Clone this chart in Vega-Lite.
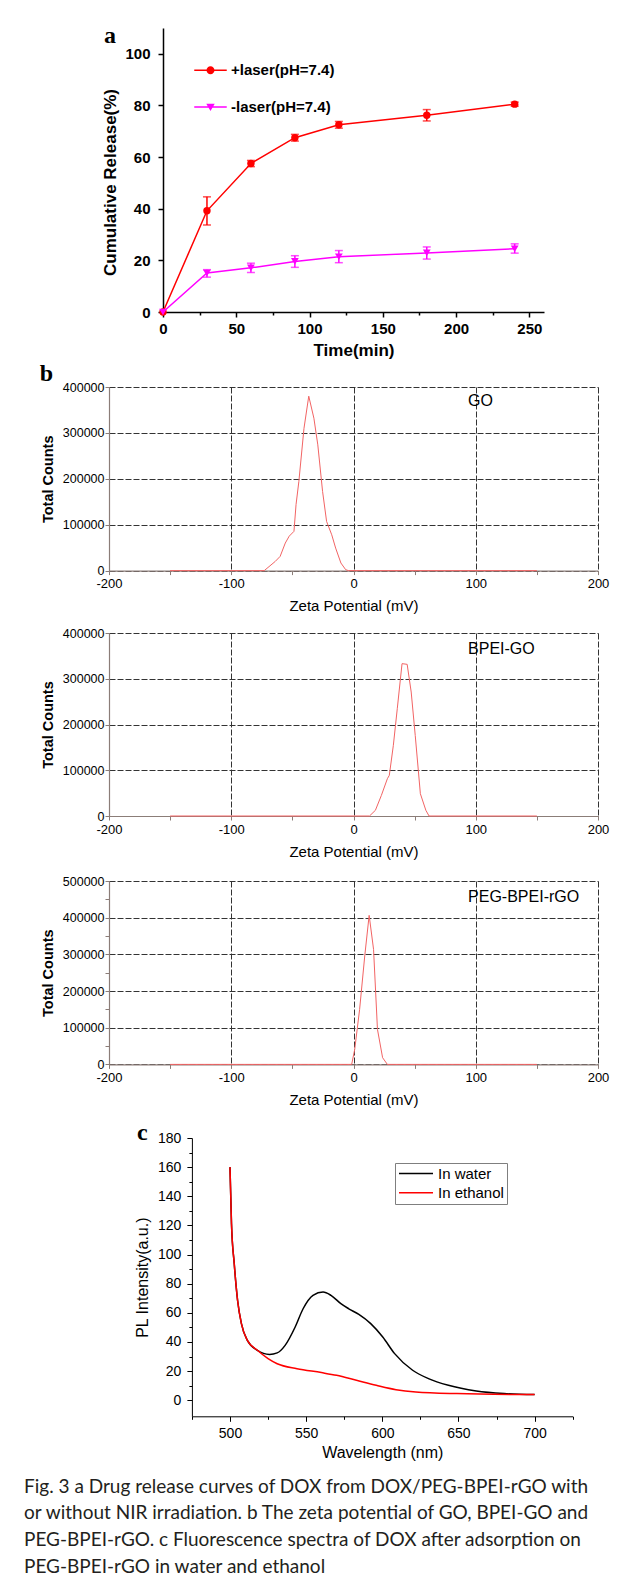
{
  "$schema": "https://vega.github.io/schema/vega-lite/v6.json",
  "padding": {"left": 24, "top": 23, "right": 5, "bottom": 12},
  "background": "white",
  "config": {
    "font": "Liberation Sans",
    "view": {"stroke": null},
    "axis": {"labelColor": "black", "titleColor": "black", "domainColor": "black", "tickColor": "black", "labelOverlap": false, "labelFlush": false}
  },
  "resolve": {"scale": {"color": "independent", "shape": "independent"}, "legend": {"color": "independent", "shape": "independent"}},
  "datasets": {
    "rel": [
      {"t": 0, "v": 0, "s": "+laser(pH=7.4)"},
      {"t": 30, "v": 39.2, "lo": 33.7, "hi": 44.6, "s": "+laser(pH=7.4)"},
      {"t": 60, "v": 57.5, "lo": 56.3, "hi": 58.7, "s": "+laser(pH=7.4)"},
      {"t": 90, "v": 67.5, "lo": 66.2, "hi": 68.8, "s": "+laser(pH=7.4)"},
      {"t": 120, "v": 72.5, "lo": 71.2, "hi": 73.8, "s": "+laser(pH=7.4)"},
      {"t": 180, "v": 76.2, "lo": 74.0, "hi": 78.4, "s": "+laser(pH=7.4)"},
      {"t": 240, "v": 80.5, "lo": 79.7, "hi": 81.3, "s": "+laser(pH=7.4)"},
      {"t": 0, "v": 0, "s": "-laser(pH=7.4)"},
      {"t": 30, "v": 15.1, "lo": 13.5, "hi": 16.4, "s": "-laser(pH=7.4)"},
      {"t": 60, "v": 17.1, "lo": 15.3, "hi": 18.9, "s": "-laser(pH=7.4)"},
      {"t": 90, "v": 19.6, "lo": 17.3, "hi": 21.8, "s": "-laser(pH=7.4)"},
      {"t": 120, "v": 21.4, "lo": 19.1, "hi": 23.8, "s": "-laser(pH=7.4)"},
      {"t": 180, "v": 22.9, "lo": 20.5, "hi": 25.2, "s": "-laser(pH=7.4)"},
      {"t": 240, "v": 24.5, "lo": 22.8, "hi": 26.4, "s": "-laser(pH=7.4)"}
    ],
    "go": [
      {"z": -150, "c": 0}, {"z": -73, "c": 0}, {"z": -64, "c": 20000}, {"z": -60, "c": 31000},
      {"z": -55.8, "c": 60000}, {"z": -52.6, "c": 75000}, {"z": -48.7, "c": 85500}, {"z": -47, "c": 143700},
      {"z": -44.7, "c": 194000}, {"z": -40.5, "c": 310000}, {"z": -36.6, "c": 380000}, {"z": -32.4, "c": 332000},
      {"z": -29.2, "c": 274000}, {"z": -25.3, "c": 172600}, {"z": -22, "c": 107000}, {"z": -17.8, "c": 78000},
      {"z": -14.6, "c": 49000}, {"z": -10.3, "c": 16500}, {"z": -6.4, "c": 2000}, {"z": -4.2, "c": 0},
      {"z": 150, "c": 0}
    ],
    "bpei": [
      {"z": -150, "c": 0}, {"z": 13.1, "c": 0}, {"z": 17.9, "c": 12400}, {"z": 22.8, "c": 45000},
      {"z": 27.7, "c": 81500}, {"z": 29.3, "c": 89000}, {"z": 32.6, "c": 154500}, {"z": 35.8, "c": 234500},
      {"z": 39.7, "c": 333000}, {"z": 43.9, "c": 331500}, {"z": 47.2, "c": 271000}, {"z": 50.5, "c": 176000},
      {"z": 54.7, "c": 48700}, {"z": 59.2, "c": 12400}, {"z": 61.8, "c": 0}, {"z": 150, "c": 0}
    ],
    "peg": [
      {"z": -150, "c": 0}, {"z": -1.5, "c": 0}, {"z": 1, "c": 41000}, {"z": 5, "c": 150000},
      {"z": 9.2, "c": 295600}, {"z": 12.8, "c": 406400}, {"z": 16.4, "c": 313700}, {"z": 19.6, "c": 95500},
      {"z": 23.8, "c": 18300}, {"z": 27.7, "c": 0}, {"z": 150, "c": 0}
    ],
    "pl": [
      {"w": 500, "i": 160, "s": "In water"}, {"w": 501, "i": 121, "s": "In water"}, {"w": 502.8, "i": 93.7, "s": "In water"},
      {"w": 505, "i": 68.5, "s": "In water"}, {"w": 507.5, "i": 52.6, "s": "In water"}, {"w": 511.4, "i": 41.1, "s": "In water"},
      {"w": 518, "i": 34.3, "s": "In water"}, {"w": 522, "i": 32.2, "s": "In water"}, {"w": 526, "i": 31.5, "s": "In water"},
      {"w": 531, "i": 32.5, "s": "In water"}, {"w": 536.2, "i": 37.7, "s": "In water"}, {"w": 542.8, "i": 50.3, "s": "In water"},
      {"w": 548, "i": 62.8, "s": "In water"}, {"w": 554.5, "i": 72, "s": "In water"}, {"w": 561.1, "i": 74.3, "s": "In water"},
      {"w": 566.3, "i": 72, "s": "In water"}, {"w": 572.8, "i": 66.3, "s": "In water"}, {"w": 578, "i": 62.8, "s": "In water"},
      {"w": 584.6, "i": 58.9, "s": "In water"}, {"w": 592.4, "i": 52.6, "s": "In water"}, {"w": 600.3, "i": 43.4, "s": "In water"},
      {"w": 608.1, "i": 32, "s": "In water"}, {"w": 619.9, "i": 20.6, "s": "In water"}, {"w": 630.3, "i": 14.9, "s": "In water"},
      {"w": 643.4, "i": 10.3, "s": "In water"}, {"w": 661.7, "i": 6.4, "s": "In water"}, {"w": 680, "i": 4.6, "s": "In water"},
      {"w": 700, "i": 3.9, "s": "In water"},
      {"w": 500, "i": 160, "s": "In ethanol"}, {"w": 501, "i": 121, "s": "In ethanol"}, {"w": 502.8, "i": 93.7, "s": "In ethanol"},
      {"w": 505, "i": 68.5, "s": "In ethanol"}, {"w": 507.5, "i": 52.6, "s": "In ethanol"}, {"w": 511.4, "i": 41.1, "s": "In ethanol"},
      {"w": 518, "i": 34.3, "s": "In ethanol"}, {"w": 525, "i": 28.6, "s": "In ethanol"}, {"w": 531, "i": 25.1, "s": "In ethanol"},
      {"w": 544, "i": 21.7, "s": "In ethanol"}, {"w": 560, "i": 19, "s": "In ethanol"}, {"w": 570, "i": 17.1, "s": "In ethanol"},
      {"w": 583, "i": 13.7, "s": "In ethanol"}, {"w": 596, "i": 10.3, "s": "In ethanol"}, {"w": 609, "i": 7.3, "s": "In ethanol"},
      {"w": 622, "i": 5.7, "s": "In ethanol"}, {"w": 649, "i": 4.6, "s": "In ethanol"}, {"w": 700, "i": 3.9, "s": "In ethanol"}
    ]
  },
  "bounds": "flush",
  "spacing": 0,
  "vconcat": [
    {
      "width": 436,
      "height": 284,
      "layer": [
        {
          "data": {"name": "rel"},
          "transform": [{"filter": "datum.s === '+laser(pH=7.4)'"}],
          "mark": {"type": "line", "strokeWidth": 1.5, "color": "#ff0000"},
          "encoding": {
            "x": {
              "field": "t", "type": "quantitative", "title": "Time(min)",
              "scale": {"domain": [0, 260], "range": [54, 435], "nice": false, "zero": false},
              "axis": {
                "values": [0, 25, 50, 75, 100, 125, 150, 175, 200, 225, 250],
                "labelExpr": "datum.value % 50 === 0 ? datum.label : ''",
                "labelFontSize": 15, "labelFontWeight": "bold", "labelFlush": false, "labelOverlap": false,
                "tickSize": {"condition": {"test": "datum.value % 50 === 0", "value": 5}, "value": 3},
                "tickWidth": 1.5, "domainWidth": 1.5, "labelPadding": 4,
                "titleFontSize": 17, "titleFontWeight": "bold", "titlePadding": 6, "grid": false
              }
            },
            "y": {
              "field": "v", "type": "quantitative", "title": "Cumulative Release(%)",
              "scale": {"domain": [0, 110], "nice": false},
              "axis": {
                "values": [0, 10, 20, 30, 40, 50, 60, 70, 80, 90, 100],
                "labelExpr": "datum.value % 20 === 0 ? datum.label : ''",
                "offset": -54,
                "labelFontSize": 15, "labelFontWeight": "bold", "labelOverlap": false,
                "tickSize": {"condition": {"test": "datum.value % 20 === 0", "value": 5}, "value": 3},
                "tickWidth": 1.5, "domainWidth": 1.5, "labelPadding": 8,
                "titleFontSize": 17, "titleFontWeight": "bold", "titlePadding": 5, "titleY": 154, "grid": false
              }
            }
          }
        },
        {
          "data": {"name": "rel"},
          "transform": [{"filter": "datum.s === '-laser(pH=7.4)'"}],
          "mark": {"type": "line", "strokeWidth": 1.5, "color": "#ff00ff"},
          "encoding": {
            "x": {"field": "t", "type": "quantitative", "title": "Time(min)"},
            "y": {"field": "v", "type": "quantitative", "title": "Cumulative Release(%)"}
          }
        },
        {
          "data": {"name": "rel"},
          "transform": [{"filter": "datum.t > 0 && datum.s === '+laser(pH=7.4)'"}],
          "mark": {"type": "errorbar", "ticks": {"size": 8}, "thickness": 1.5, "color": "#ff0000"},
          "encoding": {
            "x": {"field": "t", "type": "quantitative", "title": "Time(min)"},
            "y": {"field": "lo", "type": "quantitative", "title": "Cumulative Release(%)"},
            "y2": {"field": "hi"}
          }
        },
        {
          "data": {"name": "rel"},
          "transform": [{"filter": "datum.t > 0 && datum.s === '-laser(pH=7.4)'"}],
          "mark": {"type": "errorbar", "ticks": {"size": 8}, "thickness": 1.5, "color": "#ff00ff"},
          "encoding": {
            "x": {"field": "t", "type": "quantitative", "title": "Time(min)"},
            "y": {"field": "lo", "type": "quantitative", "title": "Cumulative Release(%)"},
            "y2": {"field": "hi"}
          }
        },
        {
          "data": {"name": "rel"},
          "transform": [{"filter": "datum.s === '+laser(pH=7.4)'"}],
          "mark": {"type": "point", "shape": "circle", "filled": true, "size": 55, "opacity": 1, "color": "#ff0000"},
          "encoding": {
            "x": {"field": "t", "type": "quantitative", "title": "Time(min)"},
            "y": {"field": "v", "type": "quantitative", "title": "Cumulative Release(%)"}
          }
        },
        {
          "data": {"name": "rel"},
          "transform": [{"filter": "datum.s === '-laser(pH=7.4)'"}],
          "mark": {"type": "point", "shape": "triangle-down", "filled": true, "size": 60, "opacity": 1, "color": "#ff00ff"},
          "encoding": {
            "x": {"field": "t", "type": "quantitative", "title": "Time(min)"},
            "y": {"field": "v", "type": "quantitative", "title": "Cumulative Release(%)"}
          }
        },
        {
          "data": {"name": "rel"},
          "mark": {"type": "point", "filled": true, "size": 1056, "opacity": 0},
          "encoding": {
            "x": {"field": "t", "type": "quantitative", "title": "Time(min)"},
            "y": {"field": "v", "type": "quantitative", "title": "Cumulative Release(%)"},
            "color": {
              "field": "s", "type": "nominal",
              "scale": {"domain": ["+laser(pH=7.4)", "-laser(pH=7.4)"], "range": ["#ff0000", "#ff00ff"]},
              "legend": {"orient": "none", "legendX": 85, "legendY": 32.3, "title": null, "padding": 0, "labelFont": "Liberation Sans", "labelFontSize": 15, "labelFontWeight": "bold", "labelColor": "black", "labelOffset": 4, "symbolSize": 1056, "symbolOpacity": 1, "symbolStrokeWidth": 0, "clipHeight": 20, "rowPadding": 16.7}
            },
            "shape": {
              "field": "s", "type": "nominal",
              "scale": {"domain": ["+laser(pH=7.4)", "-laser(pH=7.4)"], "range": ["M-1,-0.046H1V0.046H-1ZM0.246,0A0.246,0.246,0,1,1,-0.246,0A0.246,0.246,0,1,1,0.246,0Z", "M-1,-0.046H1V0.046H-1ZM-0.26,-0.2L0.26,-0.2L0,0.24Z"]},
              "legend": {"orient": "none", "legendX": 85, "legendY": 32.3, "title": null, "padding": 0, "labelFont": "Liberation Sans", "labelFontSize": 15, "labelFontWeight": "bold", "labelColor": "black", "labelOffset": 4, "symbolSize": 1056, "symbolOpacity": 1, "symbolStrokeWidth": 0, "clipHeight": 20, "rowPadding": 16.7}
            }
          }
        },
        {
          "data": {"values": [{"label": "a"}]},
          "mark": {"type": "text", "align": "left", "baseline": "alphabetic", "font": "Liberation Serif", "fontSize": 24, "fontWeight": "bold", "color": "black"},
          "encoding": {"x": {"datum": -40.3}, "y": {"datum": 104.2}, "text": {"field": "label"}}
        }
      ]
    },
    {"width": 1, "height": 74.7, "mark": "point", "data": {"values": []}},
    {
      "width": 489,
      "height": 183.6,
      "layer": [
        {
          "data": {"name": "go"},
          "mark": {"type": "line", "color": "#f26464", "strokeWidth": 1},
          "encoding": {
            "x": {"field": "z", "type": "quantitative", "scale": {"domain": [-200, 200], "nice": false},
              "axis": {"values": [-200, -150, -100, -50, 0, 50, 100, 150, 200], "labelExpr": "abs(datum.value % 100) < 0.01 ? toString(datum.value) : ''", "labelFlush": false, "labelOverlap": false, "grid": true, "gridColor": "#333333", "gridDash": [6, 2], "gridOpacity": {"condition": {"test": "abs(datum.value % 100) < 0.01", "value": 1}, "value": 0}, "domainColor": "#8b7d78", "domainWidth": 1.2, "tickColor": "#8b7d78", "tickSize": 4, "labelFontSize": 13, "labelPadding": 3, "title": "Zeta Potential (mV)", "titleFontSize": 15, "titleFontWeight": "normal", "titlePadding": 8}},
            "y": {"field": "c", "type": "quantitative", "scale": {"domain": [0, 400000], "nice": false},
              "axis": {"values": [0, 50000, 100000, 150000, 200000, 250000, 300000, 350000, 400000], "labelExpr": "abs(datum.value / 100000 - round(datum.value / 100000)) < 0.01 ? toString(round(datum.value)) : ''", "labelOverlap": false, "grid": true, "gridColor": "#333333", "gridDash": [6, 2], "gridOpacity": {"condition": {"test": "abs(datum.value / 100000 - round(datum.value / 100000)) < 0.01", "value": 1}, "value": 0}, "domainColor": "#8b7d78", "domainWidth": 1.2, "tickColor": "#8b7d78", "tickSize": 4, "labelFontSize": 12.5, "labelPadding": 1, "title": "Total Counts", "titleFontSize": 14.5, "titleFontWeight": "bold", "titlePadding": 7}}
          }
        },
        {
          "data": {"values": [{"label": "GO"}]},
          "mark": {"type": "text", "align": "left", "baseline": "middle", "fontSize": 16, "font": "Liberation Sans", "color": "black"},
          "encoding": {"x": {"datum": 93.7}, "y": {"datum": 370000}, "text": {"field": "label"}}
        },
        {
          "data": {"values": [{"label": "b"}]},
          "mark": {"type": "text", "align": "left", "baseline": "alphabetic", "font": "Liberation Serif", "fontSize": 24, "fontWeight": "bold", "color": "black"},
          "encoding": {"x": {"datum": -256.7}, "y": {"datum": 412400}, "text": {"field": "label"}}
        }
      ]
    },
    {"width": 1, "height": 61.7, "mark": "point", "data": {"values": []}},
    {
      "width": 489,
      "height": 183,
      "layer": [
        {
          "data": {"name": "bpei"},
          "mark": {"type": "line", "color": "#f26464", "strokeWidth": 1},
          "encoding": {
            "x": {"field": "z", "type": "quantitative", "scale": {"domain": [-200, 200], "nice": false},
              "axis": {"values": [-200, -150, -100, -50, 0, 50, 100, 150, 200], "labelExpr": "abs(datum.value % 100) < 0.01 ? toString(datum.value) : ''", "labelFlush": false, "labelOverlap": false, "grid": true, "gridColor": "#333333", "gridDash": [6, 2], "gridOpacity": {"condition": {"test": "abs(datum.value % 100) < 0.01", "value": 1}, "value": 0}, "domainColor": "#8b7d78", "domainWidth": 1.2, "tickColor": "#8b7d78", "tickSize": 4, "labelFontSize": 13, "labelPadding": 3, "title": "Zeta Potential (mV)", "titleFontSize": 15, "titleFontWeight": "normal", "titlePadding": 8}},
            "y": {"field": "c", "type": "quantitative", "scale": {"domain": [0, 400000], "nice": false},
              "axis": {"values": [0, 50000, 100000, 150000, 200000, 250000, 300000, 350000, 400000], "labelExpr": "abs(datum.value / 100000 - round(datum.value / 100000)) < 0.01 ? toString(round(datum.value)) : ''", "labelOverlap": false, "grid": true, "gridColor": "#333333", "gridDash": [6, 2], "gridOpacity": {"condition": {"test": "abs(datum.value / 100000 - round(datum.value / 100000)) < 0.01", "value": 1}, "value": 0}, "domainColor": "#8b7d78", "domainWidth": 1.2, "tickColor": "#8b7d78", "tickSize": 4, "labelFontSize": 12.5, "labelPadding": 1, "title": "Total Counts", "titleFontSize": 14.5, "titleFontWeight": "bold", "titlePadding": 7}}
          }
        },
        {
          "data": {"values": [{"label": "BPEI-GO"}]},
          "mark": {"type": "text", "align": "left", "baseline": "middle", "fontSize": 16, "font": "Liberation Sans", "color": "black"},
          "encoding": {"x": {"datum": 93.7}, "y": {"datum": 365700}, "text": {"field": "label"}}
        }
      ]
    },
    {"width": 1, "height": 64.3, "mark": "point", "data": {"values": []}},
    {
      "width": 489,
      "height": 183.4,
      "resolve": {"scale": {"y": "independent"}, "axis": {"y": "independent"}},
      "layer": [
        {
          "data": {"name": "peg"},
          "mark": {"type": "line", "color": "#f26464", "strokeWidth": 1},
          "encoding": {
            "x": {"field": "z", "type": "quantitative", "scale": {"domain": [-200, 200], "nice": false},
              "axis": {"values": [-200, -150, -100, -50, 0, 50, 100, 150, 200], "labelExpr": "abs(datum.value % 100) < 0.01 ? toString(datum.value) : ''", "labelFlush": false, "labelOverlap": false, "grid": true, "gridColor": "#333333", "gridDash": [6, 2], "gridOpacity": {"condition": {"test": "abs(datum.value % 100) < 0.01", "value": 1}, "value": 0}, "domainColor": "#8b7d78", "domainWidth": 1.2, "tickColor": "#8b7d78", "tickSize": 4, "labelFontSize": 13, "labelPadding": 3, "title": "Zeta Potential (mV)", "titleFontSize": 15, "titleFontWeight": "normal", "titlePadding": 8}},
            "y": {"field": "c", "type": "quantitative", "scale": {"domain": [0, 500000], "nice": false},
              "axis": {"values": [0, 50000, 100000, 150000, 200000, 250000, 300000, 350000, 400000, 450000, 500000], "labelExpr": "abs(datum.value / 100000 - round(datum.value / 100000)) < 0.01 ? toString(round(datum.value)) : ''", "labelOverlap": false, "grid": true, "gridColor": "#333333", "gridDash": [6, 2], "gridOpacity": {"condition": {"test": "abs(datum.value / 100000 - round(datum.value / 100000)) < 0.01", "value": 1}, "value": 0}, "domainColor": "#8b7d78", "domainWidth": 1.2, "tickColor": "#8b7d78", "tickSize": 4, "labelFontSize": 12.5, "labelPadding": 1, "title": "Total Counts", "titleFontSize": 14.5, "titleFontWeight": "bold", "titlePadding": 7}}
          }
        },
        {
          "data": {"values": [{"label": "PEG-BPEI-rGO"}]},
          "mark": {"type": "text", "align": "left", "baseline": "middle", "fontSize": 16, "font": "Liberation Sans", "color": "black"},
          "encoding": {"x": {"datum": 93.7}, "y": {"datum": 457000, "scale": {"domain": [0, 500000], "nice": false}, "axis": null}, "text": {"field": "label"}}
        }
      ]
    },
    {"width": 1, "height": 72.3, "mark": "point", "data": {"values": []}},
    {
      "width": 464,
      "height": 278.3,
      "resolve": {"scale": {"y": "independent"}, "axis": {"y": "independent"}},
      "layer": [
        {
          "data": {"name": "pl"},
          "mark": {"type": "line", "strokeWidth": 1.5, "interpolate": "monotone"},
          "encoding": {
            "x": {"field": "w", "type": "quantitative", "title": "Wavelength (nm)", "scale": {"domain": [475, 725], "range": [82.9, 463.7], "nice": false, "zero": false},
              "axis": {"values": [475, 500, 525, 550, 575, 600, 625, 650, 675, 700, 725], "labelExpr": "datum.value % 50 === 0 ? datum.label : ''", "labelFlush": false, "labelOverlap": false, "tickSize": {"condition": {"test": "datum.value % 50 === 0", "value": 5}, "value": 3}, "labelFontSize": 14, "labelPadding": 5, "titleFontSize": 16, "titleFontWeight": "normal", "titlePadding": 4, "grid": false}},
            "y": {"field": "i", "type": "quantitative", "title": "PL Intensity(a.u.)", "scale": {"domain": [-11, 180], "nice": false, "zero": false},
              "axis": {"values": [0, 10, 20, 30, 40, 50, 60, 70, 80, 90, 100, 110, 120, 130, 140, 150, 160, 170, 180], "labelExpr": "datum.value % 20 === 0 ? datum.label : ''", "offset": -82.9, "labelOverlap": false, "tickSize": {"condition": {"test": "datum.value % 20 === 0", "value": 5}, "value": 3}, "labelFontSize": 14, "labelPadding": 6, "titleFontSize": 16, "titleFontWeight": "normal", "titlePadding": 7, "grid": false}},
            "color": {"field": "s", "type": "nominal", "scale": {"domain": ["In water", "In ethanol"], "range": ["#000000", "#ff0000"]},
              "legend": {"orient": "none", "legendX": 286, "legendY": 25, "title": null, "symbolType": "stroke", "symbolSize": 1156, "symbolStrokeWidth": 1.5, "labelFont": "Liberation Sans", "labelFontSize": 15, "labelColor": "black", "labelOffset": 4, "strokeColor": "#7f7f7f", "fillColor": "white", "padding": 3, "clipHeight": 15, "rowPadding": 3.3}}
          }
        },
        {
          "data": {"values": [{"label": "c"}]},
          "mark": {"type": "text", "align": "left", "baseline": "alphabetic", "font": "Liberation Serif", "fontSize": 24, "fontWeight": "bold", "color": "black"},
          "encoding": {"x": {"datum": 439}, "y": {"datum": 178.6, "scale": {"domain": [-11, 180], "nice": false, "zero": false}, "axis": null}, "text": {"field": "label"}}
        }
      ]
    },
    {
      "width": 1,
      "height": 60.7,
      "mark": "point",
      "data": {"values": []},
      "title": {
        "text": ["Fig. 3  a Drug release curves of DOX from DOX/PEG-BPEI-rGO with", "or without NIR irradiation. b The zeta potential of GO, BPEI-GO and", "PEG-BPEI-rGO. c Fluorescence spectra of DOX after adsorption on", "PEG-BPEI-rGO in water and ethanol"],
        "orient": "bottom", "anchor": "start", "frame": "group", "dx": -85, "offset": 0, "baseline": "top",
        "font": "Lato", "fontSize": 19, "fontWeight": "normal", "lineHeight": 26.7, "color": "#231f20"
      }
    }
  ]
}
